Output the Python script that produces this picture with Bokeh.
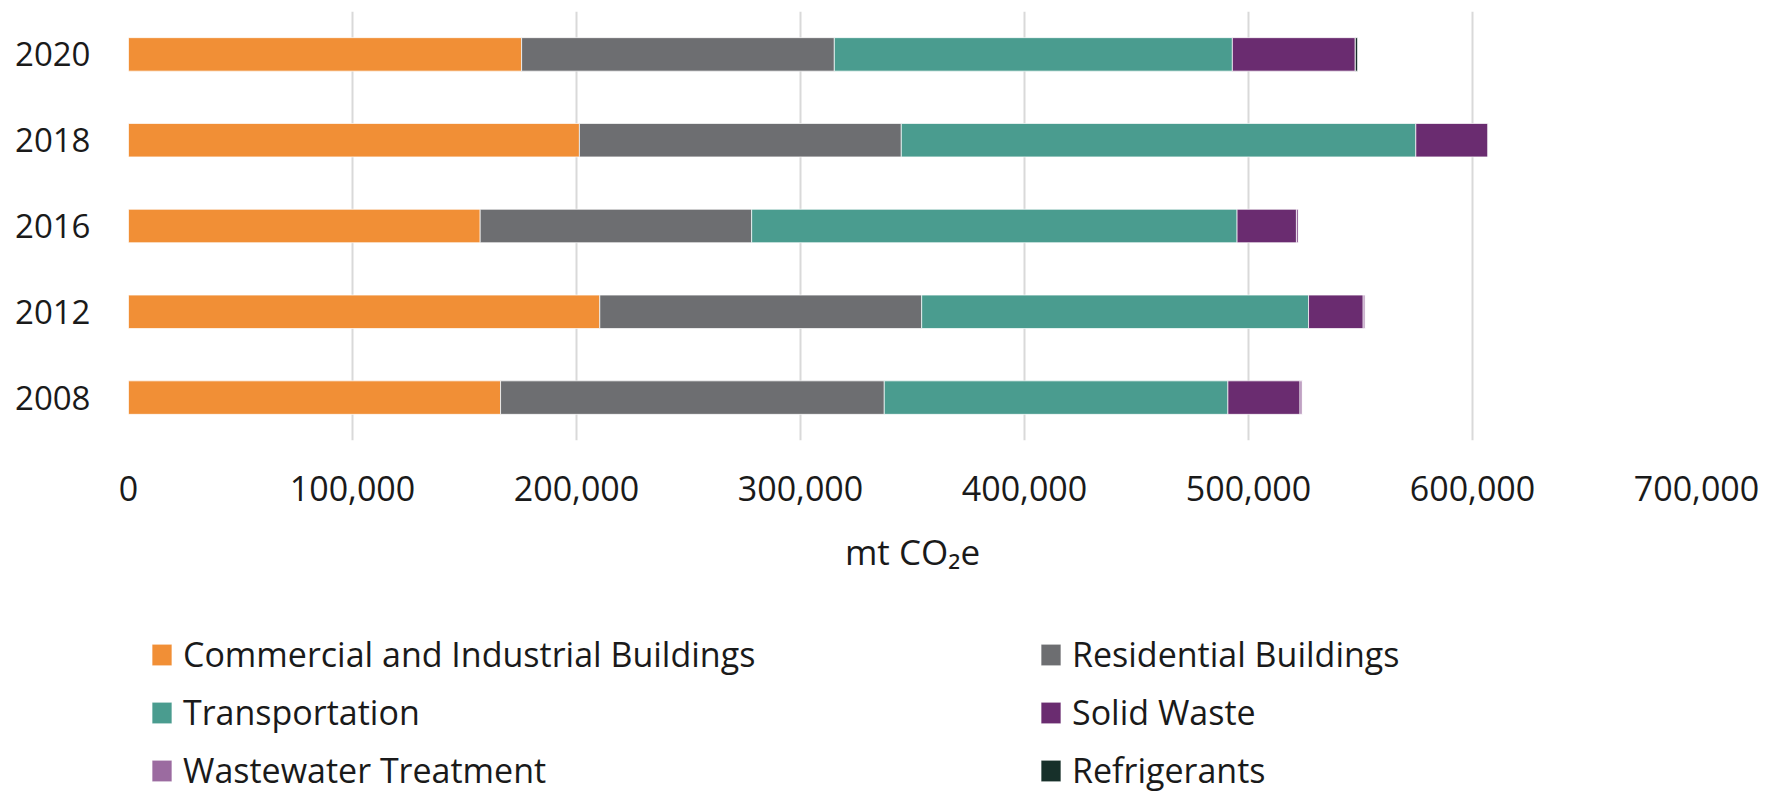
from bokeh.plotting import figure
from bokeh.layouts import column
from bokeh.models import (ColumnDataSource, Range1d, FactorRange, Legend, LegendItem,
                          FixedTicker, NumeralTickFormatter)
from bokeh.embed import file_html
from bokeh.resources import INLINE

# ---- data ----
years = ["2008", "2012", "2016", "2018", "2020"]
commercial = [166100, 210400, 157000, 201300, 175500]
residential = [171300, 143700, 121200, 143700, 139600]
transportation = [153400, 172700, 216700, 229700, 177700]
solid_waste = [32200, 24400, 26500, 32300, 54900]
wastewater = [1000, 900, 1000, 0, 0]
refrigerants = [0, 0, 0, 0, 1000]

series_names = ["Commercial and Industrial Buildings", "Residential Buildings",
                "Transportation", "Solid Waste", "Wastewater Treatment", "Refrigerants"]
series_keys = ["commercial", "residential", "transportation", "solid_waste",
               "wastewater", "refrigerants"]
colors = ["#F18F36", "#6D6E71", "#4A9C8F", "#6A2C70", "#9B6BA0", "#17302A"]
x_ticks = [0, 100000, 200000, 300000, 400000, 500000, 600000, 700000]

src = ColumnDataSource(dict(year=years, commercial=commercial, residential=residential,
                            transportation=transportation, solid_waste=solid_waste,
                            wastewater=wastewater, refrigerants=refrigerants))

FONT = "Open Sans"
TXT = "#1a1a1a"

# ---------------- main chart ----------------
p = figure(frame_width=1568, frame_height=429,
           y_range=FactorRange(factors=years, range_padding=0),
           x_range=Range1d(0, 700000),
           output_backend="svg", toolbar_location=None,
           min_border_left=128, min_border_right=80, min_border_top=11,
           min_border_bottom=170)
p.outline_line_color = None
p.background_fill_color = "white"

bar_style = dict(height=0.39, fill_color=colors, line_color="white",
                 line_width=1, line_alpha=0.7)
rs = p.hbar_stack(series_keys, y="year", source=src, **bar_style)

p.ygrid.grid_line_color = None
p.xgrid.grid_line_color = "#d9d9d9"
p.xgrid.grid_line_width = 2
p.xgrid.ticker = FixedTicker(ticks=x_ticks)

xa = p.xaxis[0]
xa.ticker = FixedTicker(ticks=x_ticks)
xa.formatter = NumeralTickFormatter(format="0,0")
xa.axis_line_color = None
xa.major_tick_line_color = None
xa.minor_tick_line_color = None
xa.major_tick_out = 0
xa.major_label_standoff = 35
xa.major_label_text_font = FONT
xa.major_label_text_font_size = "34px"
xa.major_label_text_color = TXT
xa.axis_label = "mt CO\u2082e"
xa.axis_label_text_font = FONT
xa.axis_label_text_font_size = "35px"
xa.axis_label_text_font_style = "normal"
xa.axis_label_text_color = TXT
xa.axis_label_standoff = 24

ya = p.yaxis[0]
ya.axis_line_color = None
ya.major_tick_line_color = None
ya.minor_tick_line_color = None
ya.major_tick_out = 0
ya.major_label_standoff = 38
ya.major_label_text_font = FONT
ya.major_label_text_font_size = "33px"
ya.major_label_text_color = TXT

# ---------------- legend strip ----------------
# the same series as hidden renderers; only their legend is shown
pl = figure(width=1776, height=190,
            y_range=FactorRange(factors=years), x_range=Range1d(0, 700000),
            output_backend="svg", toolbar_location=None,
            x_axis_location=None, y_axis_location=None,
            min_border_left=100, min_border_right=0, min_border_top=0,
            min_border_bottom=0)
pl.outline_line_color = None
pl.xgrid.grid_line_color = None
pl.ygrid.grid_line_color = None
rl = pl.hbar_stack(series_keys, y="year", source=src, **bar_style)
for r in rl:
    r.visible = False

items = [LegendItem(label=n, renderers=[r]) for n, r in zip(series_names, rl)]
legend = Legend(items=items, orientation="horizontal", ncols=2, click_policy="none",
                location="top_left", margin=21, padding=0, spacing=12,
                glyph_width=25, glyph_height=27,
                label_standoff=9, label_width=843,
                label_text_font=FONT, label_text_font_size="34px", label_text_color=TXT,
                border_line_color=None, background_fill_alpha=0,
                inactive_fill_alpha=0)
pl.add_layout(legend, "center")

layout = column(p, pl, spacing=0)
open("out.html", "w").write(file_html(layout, INLINE))
